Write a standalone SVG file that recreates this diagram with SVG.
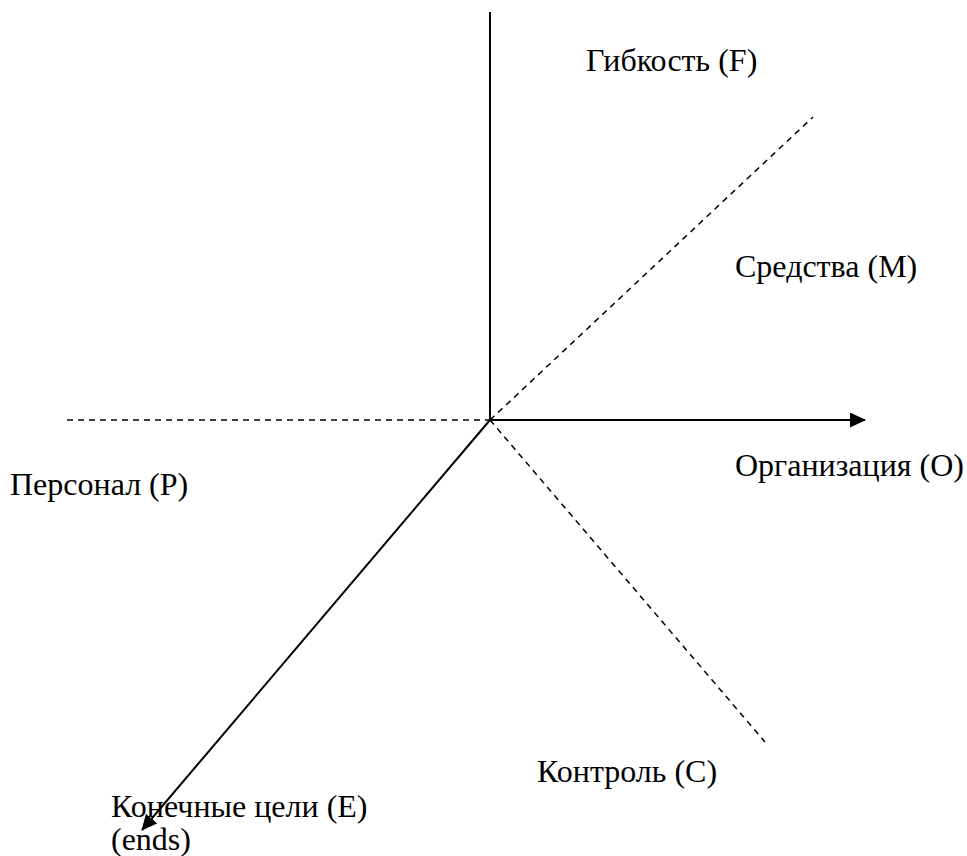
<svg xmlns="http://www.w3.org/2000/svg" width="967" height="856" viewBox="0 0 967 856">
<style>
text{font-family:'Liberation Serif','Times New Roman',serif;font-size:32px;fill:#000}
.s{stroke:#000;stroke-width:2;fill:none}
.d{stroke:#000;stroke-width:1.5;fill:none;stroke-dasharray:6,5}
</style>
<defs>
<marker id="ah2" markerWidth="16" markerHeight="15" refX="15" refY="7.5" orient="auto" markerUnits="userSpaceOnUse" viewBox="0 0 16 15">
<path d="M0,0 L16,7.5 L0,15 z" fill="#000"/>
</marker>
</defs>
<g id="connectors">
<line class="s" x1="490" y1="12" x2="490" y2="420"/>
<line class="d" x1="67" y1="420" x2="490" y2="420"/>
<line class="s" x1="490" y1="420" x2="865" y2="420" marker-end="url(#ah2)"/>
<line class="d" x1="490" y1="420" x2="813" y2="117"/>
<line class="d" x1="490" y1="420" x2="765" y2="742"/>
<line class="s" x1="490" y1="420" x2="142" y2="830" marker-end="url(#ah2)"/>
</g>
<g id="F"><text x="586" y="71">Гибкость (F)</text></g>
<g id="M"><text x="735" y="277">Средства (M)</text></g>
<g id="O"><text x="735" y="476">Организация (O)</text></g>
<g id="P"><text x="10" y="495">Персонал (P)</text></g>
<g id="C"><text x="537" y="782">Контроль (C)</text></g>
<g id="E"><text x="111" y="817">Конечные цели (E)</text><text x="111" y="850">(ends)</text></g>
</svg>
